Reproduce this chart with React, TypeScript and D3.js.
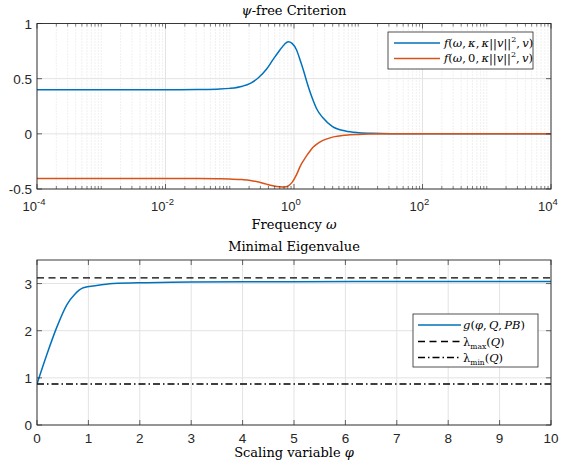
import React from 'react';
import * as d3 from 'd3';

// ---------- Data ----------
const omega = [1e-4, 1e-2, 0.0316, 0.0631, 0.1, 0.158, 0.209, 0.282, 0.372, 0.468, 0.603, 0.708, 0.813, 0.933, 1.096, 1.259, 1.413, 1.585, 1.778, 1.995, 2.239, 2.818, 3.981, 6.31, 10, 15.85, 31.62, 100, 1e4];
const critKappa = [0.4, 0.4, 0.401, 0.405, 0.412, 0.432, 0.458, 0.51, 0.585, 0.67, 0.76, 0.81, 0.835, 0.82, 0.76, 0.66, 0.57, 0.47, 0.38, 0.3, 0.23, 0.145, 0.065, 0.025, 0.01, 0.005, 0.001, 0, 0];
const critZero = [-0.405, -0.405, -0.405, -0.407, -0.41, -0.415, -0.422, -0.437, -0.456, -0.47, -0.48, -0.482, -0.472, -0.44, -0.37, -0.29, -0.24, -0.195, -0.155, -0.12, -0.095, -0.06, -0.03, -0.012, -0.005, -0.002, 0, 0, 0];

const phi = [0, 0.19, 0.38, 0.58, 0.74, 0.9, 1.16, 1.48, 2.13, 3, 5, 7, 10];
const gVals = [0.87, 1.49, 2.06, 2.55, 2.78, 2.91, 2.96, 3.0, 3.02, 3.035, 3.04, 3.045, 3.045];
const lambdaMax = 3.12;
const lambdaMin = 0.87;

const topXTicks = [1e-4, 1e-2, 1, 1e2, 1e4];
const topXTickExp = ['-4', '-2', '0', '2', '4'];
const topYTicks = [-0.5, 0, 0.5, 1];
const topYTickLabels = ['-0.5', '0', '0.5', '1'];
const botXTicks = [0, 1, 2, 3, 4, 5, 6, 7, 8, 9, 10];
const botYTicks = [0, 1, 2, 3];

// ---------- Style ----------
const AX = '#262626';
const GRID = '#e3e3e3';
const MINOR = '#cfcfcf';
const BLUE = '#0072BD';
const ORANGE = '#D95319';
const SANS = "'Liberation Sans', Arial, sans-serif";
const MATH = "'DejaVu Serif', serif";

const L = 37, R = 551;
const T1 = 23.5, B1 = 189;
const T2 = 260, B2 = 425;

const sans = { fontFamily: SANS, fontSize: 13.5 };
const math = { fontFamily: MATH, fontSize: 13 };
const mathLeg = { fontFamily: MATH, fontSize: 11.5 };
const it = { fontStyle: 'italic' as const };
const TS = '\u2009';

export default function App() {
  const x1 = d3.scaleLog().domain([1e-4, 1e4]).range([L, R]);
  const y1 = d3.scaleLinear().domain([-0.5, 1]).range([B1, T1]);
  const x2 = d3.scaleLinear().domain([0, 10]).range([L, R]);
  const y2 = d3.scaleLinear().domain([0, 3.5]).range([B2, T2]);

  const minorTicks: number[] = [];
  for (let d = -4; d < 4; d++) {
    for (let k = 1; k <= 9; k++) {
      const v = k * Math.pow(10, d);
      if (!(k === 1 && d % 2 === 0)) minorTicks.push(v);
    }
  }

  const line1 = d3.line<number>().x((_, i) => x1(omega[i])).y((d) => y1(d)).curve(d3.curveMonotoneX);
  const line2 = d3.line<number>().x((_, i) => x2(phi[i])).y((d) => y2(d)).curve(d3.curveMonotoneX);

  return (
    <svg width={562} height={468} style={{ position: 'absolute', left: 0, top: 0, background: '#fff' }}>
      <defs>
        <clipPath id="c1"><rect x={L} y={T1} width={R - L} height={B1 - T1} /></clipPath>
        <clipPath id="c2"><rect x={L} y={T2} width={R - L} height={B2 - T2} /></clipPath>
      </defs>
      <rect x={0} y={0} width={562} height={468} fill="#fff" />

      {/* ===== Top plot ===== */}
      {minorTicks.map((v, i) => (
        <line key={'mg' + i} x1={x1(v)} x2={x1(v)} y1={T1} y2={B1} stroke={MINOR} strokeWidth={0.6} strokeDasharray="1,2" />
      ))}
      {topXTicks.map((v, i) => (
        <line key={'gx' + i} x1={x1(v)} x2={x1(v)} y1={T1} y2={B1} stroke={GRID} strokeWidth={1} />
      ))}
      {topYTicks.map((v, i) => (
        <line key={'gy' + i} x1={L} x2={R} y1={y1(v)} y2={y1(v)} stroke={GRID} strokeWidth={1} />
      ))}
      <g clipPath="url(#c1)">
        <path d={line1(critKappa) || ''} fill="none" stroke={BLUE} strokeWidth={1.5} />
        <path d={line1(critZero) || ''} fill="none" stroke={ORANGE} strokeWidth={1.5} />
      </g>
      <rect x={L} y={T1} width={R - L} height={B1 - T1} fill="none" stroke={AX} strokeWidth={0.9} />
      {minorTicks.map((v, i) => (
        <g key={'mt' + i} stroke={AX} strokeWidth={0.6}>
          <line x1={x1(v)} x2={x1(v)} y1={B1} y2={B1 - 3} />
          <line x1={x1(v)} x2={x1(v)} y1={T1} y2={T1 + 3} />
        </g>
      ))}
      {topXTicks.map((v, i) => (
        <g key={'xt' + i}>
          <line x1={x1(v)} x2={x1(v)} y1={B1} y2={B1 - 5} stroke={AX} strokeWidth={0.7} />
          <line x1={x1(v)} x2={x1(v)} y1={T1} y2={T1 + 5} stroke={AX} strokeWidth={0.7} />
          <text x={x1(v) - 3} y={211} textAnchor="middle" style={{ ...sans, fontSize: 13 }} fill={AX}>
            10<tspan dy={-6} style={{ fontSize: 9.5 }}>{topXTickExp[i]}</tspan>
          </text>
        </g>
      ))}
      {topYTicks.map((v, i) => (
        <g key={'yt' + i}>
          <line x1={L} x2={L + 5} y1={y1(v)} y2={y1(v)} stroke={AX} strokeWidth={0.7} />
          <line x1={R} x2={R - 5} y1={y1(v)} y2={y1(v)} stroke={AX} strokeWidth={0.7} />
          <text x={32} y={y1(v) + 5} textAnchor="end" style={sans} fill={AX}>{topYTickLabels[i]}</text>
        </g>
      ))}
      <text x={294} y={15} textAnchor="middle" style={math} fill="#000">
        <tspan style={it}>ψ</tspan>-free Criterion
      </text>
      <text x={294} y={229} textAnchor="middle" style={math} fill="#000">
        Frequency <tspan style={it}>ω</tspan>
      </text>

      {/* Top legend */}
      <rect x={388} y={32} width={145} height={37} fill="#fff" stroke={AX} strokeWidth={0.8} />
      <line x1={394} x2={440} y1={43} y2={43} stroke={BLUE} strokeWidth={1.5} />
      <line x1={394} x2={440} y1={58.5} y2={58.5} stroke={ORANGE} strokeWidth={1.5} />
      <text x={444} y={46.5} style={mathLeg} fill="#000">
        <tspan style={it}>f</tspan>(<tspan style={it}>ω</tspan>,{TS}<tspan style={it}>κ</tspan>,{TS}<tspan style={it}>κ</tspan>||<tspan style={it}>v</tspan>||<tspan dy={-5} style={{ fontSize: 8 }}>2</tspan><tspan dy={5}>,{TS}</tspan><tspan style={it}>v</tspan>)
      </text>
      <text x={444} y={62} style={mathLeg} fill="#000">
        <tspan style={it}>f</tspan>(<tspan style={it}>ω</tspan>,{TS}0,{TS}<tspan style={it}>κ</tspan>||<tspan style={it}>v</tspan>||<tspan dy={-5} style={{ fontSize: 8 }}>2</tspan><tspan dy={5}>,{TS}</tspan><tspan style={it}>v</tspan>)
      </text>

      {/* ===== Bottom plot ===== */}
      {botXTicks.map((v, i) => (
        <line key={'bgx' + i} x1={x2(v)} x2={x2(v)} y1={T2} y2={B2} stroke={GRID} strokeWidth={1} />
      ))}
      {botYTicks.map((v, i) => (
        <line key={'bgy' + i} x1={L} x2={R} y1={y2(v)} y2={y2(v)} stroke={GRID} strokeWidth={1} />
      ))}
      <g clipPath="url(#c2)">
        <path d={line2(gVals) || ''} fill="none" stroke={BLUE} strokeWidth={1.5} />
        <line x1={L} x2={R} y1={y2(lambdaMax)} y2={y2(lambdaMax)} stroke="#000" strokeWidth={1.4} strokeDasharray="7,4.5" />
        <line x1={L} x2={R} y1={y2(lambdaMin)} y2={y2(lambdaMin)} stroke="#000" strokeWidth={1.4} strokeDasharray="7,3,1.5,3" />
      </g>
      <rect x={L} y={T2} width={R - L} height={B2 - T2} fill="none" stroke={AX} strokeWidth={0.9} />
      {botXTicks.map((v, i) => (
        <g key={'bxt' + i}>
          <line x1={x2(v)} x2={x2(v)} y1={B2} y2={B2 - 5} stroke={AX} strokeWidth={0.7} />
          <line x1={x2(v)} x2={x2(v)} y1={T2} y2={T2 + 5} stroke={AX} strokeWidth={0.7} />
          <text x={x2(v)} y={443} textAnchor="middle" style={sans} fill={AX}>{v}</text>
        </g>
      ))}
      {botYTicks.map((v, i) => (
        <g key={'byt' + i}>
          <line x1={L} x2={L + 5} y1={y2(v)} y2={y2(v)} stroke={AX} strokeWidth={0.7} />
          <line x1={R} x2={R - 5} y1={y2(v)} y2={y2(v)} stroke={AX} strokeWidth={0.7} />
          <text x={32} y={y2(v) + 5} textAnchor="end" style={sans} fill={AX}>{v}</text>
        </g>
      ))}
      <text x={294} y={251} textAnchor="middle" style={math} fill="#000">Minimal Eigenvalue</text>
      <text x={294} y={457} textAnchor="middle" style={math} fill="#000">
        Scaling variable <tspan style={it}>φ</tspan>
      </text>

      {/* Bottom legend */}
      <rect x={413} y={314} width={125} height={53} fill="#fff" stroke={AX} strokeWidth={0.8} />
      <line x1={418} x2={461} y1={325} y2={325} stroke={BLUE} strokeWidth={1.5} />
      <line x1={418} x2={461} y1={341.5} y2={341.5} stroke="#000" strokeWidth={1.4} strokeDasharray="7,4.5" />
      <line x1={418} x2={461} y1={357.5} y2={357.5} stroke="#000" strokeWidth={1.4} strokeDasharray="7,3,1.5,3" />
      <text x={463} y={329} style={mathLeg} fill="#000">
        <tspan style={it}>g</tspan>(<tspan style={it}>φ</tspan>,{TS}<tspan style={it}>Q</tspan>,{TS}<tspan style={it}>PB</tspan>)
      </text>
      <text x={463} y={345.5} style={mathLeg} fill="#000">
        λ<tspan dy={3} style={{ fontSize: 7.5 }}>max</tspan><tspan dy={-3}>(</tspan><tspan style={it}>Q</tspan>)
      </text>
      <text x={463} y={361.5} style={mathLeg} fill="#000">
        λ<tspan dy={3} style={{ fontSize: 7.5 }}>min</tspan><tspan dy={-3}>(</tspan><tspan style={it}>Q</tspan>)
      </text>
    </svg>
  );
}
